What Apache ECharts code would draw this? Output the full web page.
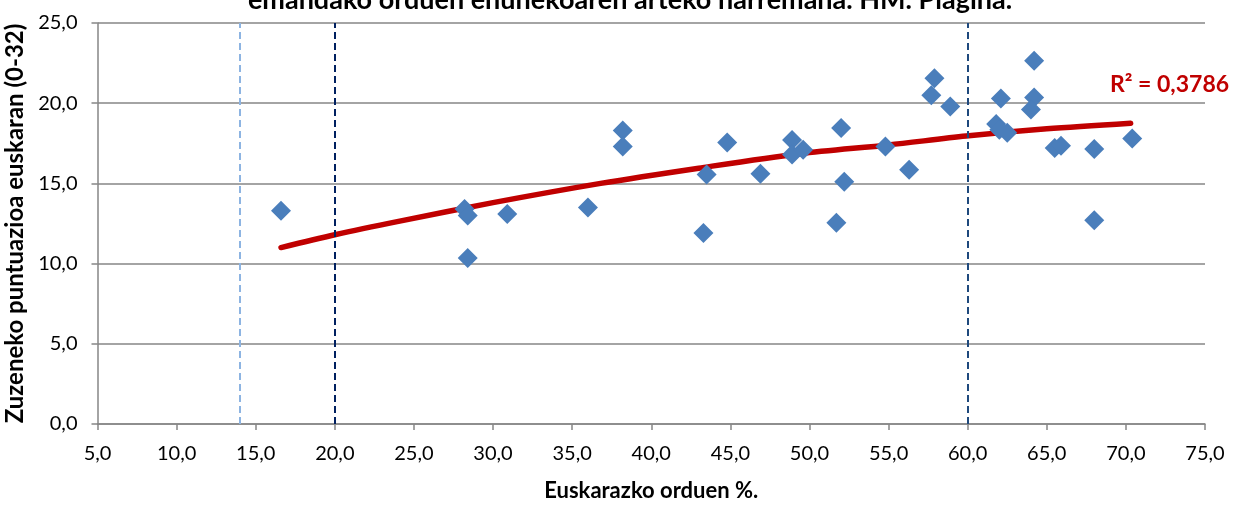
<!DOCTYPE html>
<html>
<head>
<meta charset="utf-8">
<script src="https://cdn.jsdelivr.net/npm/echarts@6/dist/echarts.min.js"></script>
<style>
html,body{margin:0;padding:0;background:#fff;}
#chart{width:1233px;height:505px;}
</style>
</head>
<body>
<div id="chart"></div>
<script>
// euskarazko orduen % (x) eta zuzeneko puntuazioa (y)
const orduak = [16.6, 28.2, 28.4, 30.9, 28.4, 36.0, 38.2, 38.2, 43.3, 43.5, 44.8, 46.9, 48.9, 48.9, 49.6,
  52.0, 52.2, 51.7, 54.8, 56.3, 57.9, 57.7, 58.9, 62.1, 61.8, 62.0, 62.5, 64.2, 64.2, 64.0, 65.5, 65.9, 68.0, 68.0, 70.4]
const puntuazioa = [13.3, 13.4, 13.0, 13.1, 10.35, 13.5, 18.3, 17.3, 11.9, 15.55, 17.55, 15.6, 17.7, 16.8, 17.1,
  18.45, 15.1, 12.55, 17.3, 15.85, 21.55, 20.5, 19.8, 20.3, 18.7, 18.35, 18.15, 22.65, 20.35, 19.6, 17.2, 17.35, 17.15, 12.7, 17.8]
// joera-lerroa (logaritmikoa), irudiatik irakurria
const joeraX = [16.6, 20, 24.1, 30, 36.8, 43, 49.4, 55, 59.9, 65, 70.3]
const joeraY = [11.0, 11.8, 12.65, 13.8, 15.0, 15.95, 16.85, 17.4, 17.95, 18.4, 18.75]
const r2Testua = 'R² = 0,3786'

const fnt = 'Lato, "Open Sans", sans-serif'
const chart = echarts.init(document.getElementById('chart'))
const fmt = v => v.toFixed(1).replace('.', ',')

const option = {
  backgroundColor: '#fff',
  animation: false,
  title: {
    text: 'emandako orduen ehunekoaren arteko harremana. HM. Plagina.',
    left: 625, textAlign: 'center',
    top: -18,
    textStyle: {fontFamily: fnt, fontWeight: 'bold', fontSize: 27, color: '#000'}
  },
  grid: {left: 97.5, right: 28, top: 23, bottom: 81, outerBoundsMode: 'none', containLabel: false},
  xAxis: {
    type: 'value', min: 5, max: 75, interval: 5,
    name: 'Euskarazko orduen %.',
    nameLocation: 'middle', nameGap: 56,
    nameTextStyle: {fontFamily: fnt, fontWeight: 'bold', fontSize: 22, color: '#000'},
    axisLine: {show: true, lineStyle: {color: '#868686', width: 1.5}},
    axisTick: {show: true, inside: false, length: 6, lineStyle: {color: '#868686', width: 1.5}},
    axisLabel: {fontFamily: fnt, fontSize: 20, color: '#000', margin: 20, formatter: fmt},
    splitLine: {show: false}
  },
  yAxis: {
    type: 'value', min: 0, max: 25, interval: 5,
    name: 'Zuzeneko puntuazioa euskaran (0-32)',
    nameLocation: 'middle', nameGap: 62, nameRotate: 90,
    nameTextStyle: {fontFamily: fnt, fontWeight: 'bold', fontSize: 24, color: '#000'},
    axisLine: {show: true, lineStyle: {color: '#868686', width: 1.5}},
    axisTick: {show: true, inside: false, length: 6, lineStyle: {color: '#868686', width: 1.5}},
    axisLabel: {fontFamily: fnt, fontSize: 20, color: '#000', margin: 20, formatter: fmt},
    splitLine: {show: true, lineStyle: {color: '#868686', width: 1.5}}
  },
  series: [
    {
      type: 'line',
      data: [],
      markLine: {
        silent: true, symbol: 'none', label: {show: false},
        data: [
          {xAxis: 14, lineStyle: {color: '#8DB4E2', type: [7, 4], width: 2}},
          {xAxis: 20, lineStyle: {color: '#002060', type: [7, 4], width: 2}},
          {xAxis: 60, lineStyle: {color: '#1F497D', type: [7, 4], width: 2}}
        ]
      }
    },
    {
      type: 'line',
      data: joeraX.map((x, i) => [x, joeraY[i]]),
      smooth: 0.3,
      showSymbol: false,
      lineStyle: {color: '#C00000', width: 5.5, cap: 'round'},
      z: 3
    },
    {
      type: 'scatter',
      data: orduak.map((x, i) => [x, puntuazioa[i]]),
      symbol: 'diamond',
      symbolSize: 20,
      itemStyle: {color: '#4A7EBB', opacity: 1},
      z: 4
    }
  ],
  graphic: [
    {
      type: 'text', left: 1110, top: 73,
      style: {text: r2Testua, fontFamily: fnt, fontWeight: 'bold', fontSize: 23, fill: '#C00000'}
    }
  ]
}
chart.setOption(option)
</script>
</body>
</html>
